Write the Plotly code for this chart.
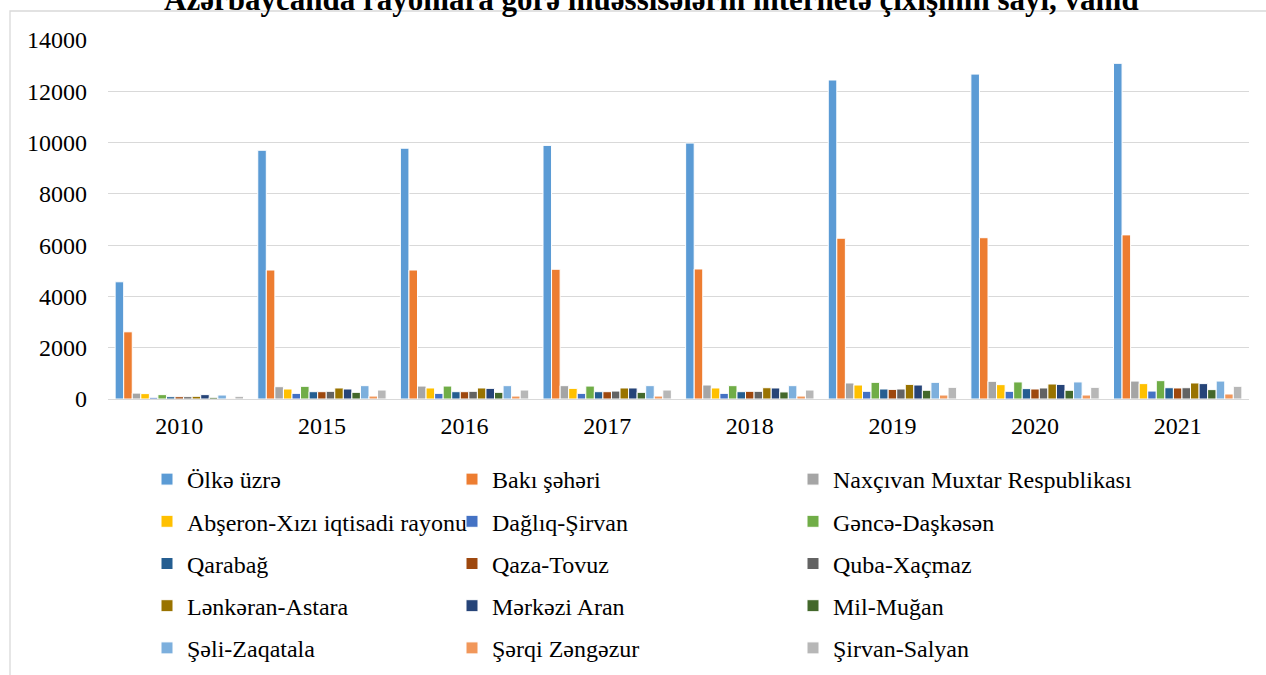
import plotly.graph_objects as go

years = ["2010", "2015", "2016", "2017", "2018", "2019", "2020", "2021"]

series_names = [
    "Ölkə üzrə", "Bakı şəhəri", "Naxçıvan Muxtar Respublikası",
    "Abşeron-Xızı iqtisadi rayonu", "Dağlıq-Şirvan", "Gəncə-Daşkəsən",
    "Qarabağ", "Qaza-Tovuz", "Quba-Xaçmaz",
    "Lənkəran-Astara", "Mərkəzi Aran", "Mil-Muğan",
    "Şəli-Zaqatala", "Şərqi Zəngəzur", "Şirvan-Salyan",
]

olke = [4570, 9700, 9780, 9890, 9980, 12440, 12670, 13090]
baki = [2620, 5030, 5030, 5060, 5070, 6270, 6290, 6400]
naxcivan = [230, 480, 505, 520, 545, 625, 690, 700]
abseron = [210, 390, 430, 415, 430, 545, 560, 600]
dagliq = [65, 220, 220, 220, 220, 300, 300, 310]
gence = [170, 495, 505, 505, 520, 650, 665, 715]
qarabag = [90, 285, 285, 285, 285, 390, 405, 440]
qaza = [90, 285, 285, 285, 300, 375, 390, 430]
quba = [90, 300, 300, 310, 300, 390, 430, 440]
lenkeran = [105, 430, 430, 430, 440, 570, 585, 625]
merkezi = [170, 390, 415, 430, 430, 545, 570, 600]
mil = [65, 260, 260, 260, 275, 340, 340, 365]
seli = [155, 520, 520, 520, 520, 650, 665, 700]
serqi = [25, 115, 115, 115, 115, 155, 155, 195]
sirvan = [105, 350, 350, 350, 350, 455, 455, 495]

values = [olke, baki, naxcivan, abseron, dagliq, gence, qarabag, qaza, quba,
          lenkeran, merkezi, mil, seli, serqi, sirvan]

colors = ["#5B9BD5", "#ED7D31", "#A5A5A5", "#FFC000", "#4472C4", "#70AD47",
          "#255E91", "#9E480E", "#636363", "#997300", "#264478", "#43682B",
          "#7CAFDD", "#F1975A", "#B7B7B7"]

title_text = "Azərbaycanda rayonlara görə müəssisələrin internetə çıxışının sayı, vahid"
y_ticks = [0, 2000, 4000, 6000, 8000, 10000, 12000, 14000]

FONT = "Liberation Serif, Times New Roman, serif"
W, H = 1266, 675
ML, MR, MT, MB = 108, 17, 40, 276

fig = go.Figure()
legend_ids = ["legend", "legend2", "legend3"]
for i, (name, vals, col) in enumerate(zip(series_names, values, colors)):
    fig.add_trace(go.Bar(
        x=years, y=vals, name=name,
        marker=dict(color=col, line=dict(color="white", width=1)),
        legend=legend_ids[i % 3],
        legendgroup=name,
    ))

plot_w = W - ML - MR
plot_h = H - MT - MB


def px_to_paper_x(px):
    return (px - ML) / plot_w


def px_to_paper_y(py):
    return (H - MB - py) / plot_h


legend_common = dict(
    xref="container", yref="container",
    orientation="v", yanchor="top", xanchor="left",
    font=dict(family=FONT, size=24, color="#000000"),
    tracegroupgap=8, bgcolor="rgba(0,0,0,0)",
)

legend_top = 1 - 457 / H

fig.update_layout(
    width=W, height=H,
    margin=dict(l=ML, r=MR, t=MT, b=MB, autoexpand=False),
    paper_bgcolor="white", plot_bgcolor="white",
    barmode="group", bargap=0.1, bargroupgap=0.0,
    font=dict(family=FONT, size=24, color="#000000"),
    xaxis=dict(
        type="category", showgrid=False, showline=False, ticks="",
        tickfont=dict(family=FONT, size=24, color="#000000"),
        tickangle=0, automargin=False, ticklabelstandoff=10,
    ),
    yaxis=dict(
        range=[0, 14000], tickvals=y_ticks, tickformat="d", showgrid=True,
        gridcolor="#D9D9D9", gridwidth=1, zeroline=True,
        zerolinecolor="#D9D9D9", zerolinewidth=1, showline=False,
        ticks="", tickfont=dict(family=FONT, size=24, color="#000000"),
        ticklabelstandoff=20, automargin=False,
    ),
    legend=dict(legend_common, x=147 / W, y=legend_top),
    legend2=dict(legend_common, x=452 / W, y=legend_top),
    legend3=dict(legend_common, x=793 / W, y=legend_top),
    annotations=[
        dict(text="<b>" + title_text + "</b>", showarrow=False,
             xref="paper", yref="paper",
             x=px_to_paper_x(651), y=px_to_paper_y(0),
             xanchor="center", yanchor="middle",
             font=dict(family=FONT, size=31, color="#000000")),
    ],
    shapes=[
        dict(type="rect", xref="paper", yref="paper",
             x0=px_to_paper_x(10), x1=px_to_paper_x(1280),
             y0=px_to_paper_y(700), y1=px_to_paper_y(11),
             line=dict(color="#D9D9D9", width=1.3), fillcolor="rgba(0,0,0,0)",
             layer="below"),
    ],
)

fig.write_html("out.html", config={"displayModeBar": False},
               post_script="document.body.style.margin='0';")
